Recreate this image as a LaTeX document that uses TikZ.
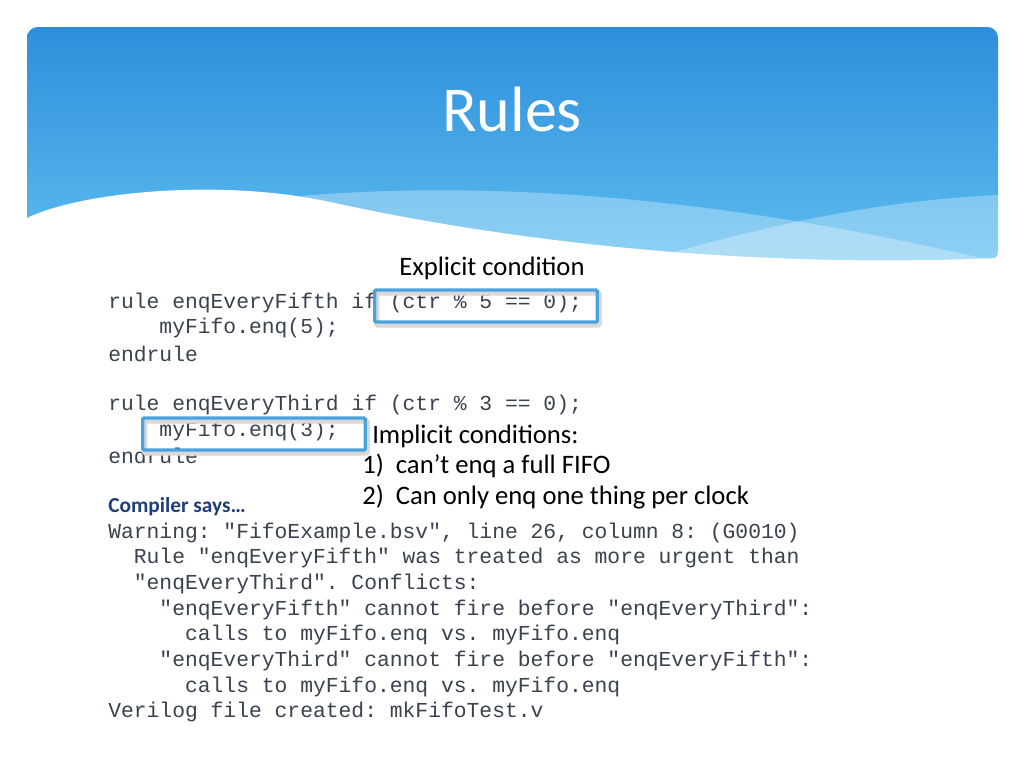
\documentclass[tikz,border=0pt]{standalone}
\usepackage{fontspec}
\setmainfont{Carlito}
\setmonofont{Liberation Mono}
\usepackage{xcolor}
\definecolor{bannertop}{HTML}{2E8EDB}
\definecolor{bannerbot}{HTML}{5CBDF0}
\definecolor{boxblue}{HTML}{4BA3DD}
\definecolor{saysblue}{HTML}{1F3F7A}
\definecolor{codegray}{HTML}{3A4250}
\usetikzlibrary{positioning}

\begin{document}
\begin{tikzpicture}[x=0.75pt,y=-0.75pt]
    % Define styles
    \tikzset{code/.style={anchor=west, inner sep=0pt, font=\fontsize{16}{18}\selectfont\ttfamily, text=codegray}}
    \tikzset{note/.style={anchor=west, inner sep=0pt, font=\fontsize{20}{24}\selectfont}}
    \tikzset{hilite/.style={draw=boxblue, line width=2.4pt, rounded corners=1pt,
        minimum width=167pt, minimum height=24pt}}

    \useasboundingbox[fill=white] (0,0) rectangle (1024,768);

    % Banner
    \shade[top color=bannertop, bottom color=bannerbot, rounded corners=8pt]
        (27,27) rectangle (998,262);
    \fill[white, opacity=0.3] (300,196) .. controls (550,175) and (800,215) .. (998,262)
        -- (998,270) -- (600,270) -- cycle;
    \fill[white, opacity=0.3] (640,262) .. controls (800,215) and (900,200) .. (998,195)
        -- (998,270) -- cycle;
    \fill[white] (27,218) .. controls (80,192) and (220,178) .. (330,202)
        .. controls (480,235) and (720,270) .. (998,258) -- (998,275) -- (27,275) -- cycle;
    \node[text=white, font=\fontsize{48}{52}\selectfont] (title) at (512,110) {Rules};

    % Code
    \node[code] (l1) at (108,303) {rule enqEveryFifth if (ctr \% 5 == 0);};
    \node[code] (l2) at (108,328) {\ \ \ \ myFifo.enq(5);};
    \node[code] (l3) at (108,354) {endrule};
    \node[code] (l4) at (108,405) {rule enqEveryThird if (ctr \% 3 == 0);};
    \node[code] (l5) at (108,431) {\ \ \ \ myFifo.enq(3);};
    \node[code] (l6) at (108,456) {endrule};

    % Highlight boxes
    \node[hilite, draw=black!15, line width=4pt] at (488,309) {};
    \node[hilite, draw=black!15, line width=4pt] at (256,437) {};
    \node[hilite] (box1) at (486,306) {};
    \node[hilite] (box2) at (254,434) {};

    % Notes
    \node[note] (explicit) at (399,268) {Explicit condition};
    \node[note] (implicit) at (372,436) {Implicit conditions:};
    \node[note] (imp1) at (362,466) {1)\ \ can’t enq a full FIFO};
    \node[note] (imp2) at (362,497) {2)\ \ Can only enq one thing per clock};
    \node[anchor=west, inner sep=0pt, font=\fontsize{16}{18}\selectfont\bfseries, text=saysblue]
        (says) at (108,507) {Compiler says…};

    % Compiler output
    \node[code] (w1) at (108,533) {Warning: "FifoExample.bsv", line 26, column 8: (G0010)};
    \node[code] (w2) at (108,558) {\ \ Rule "enqEveryFifth" was treated as more urgent than};
    \node[code] (w3) at (108,584) {\ \ "enqEveryThird". Conflicts:};
    \node[code] (w4) at (108,610) {\ \ \ \ "enqEveryFifth" cannot fire before "enqEveryThird":};
    \node[code] (w5) at (108,635) {\ \ \ \ \ \ calls to myFifo.enq vs. myFifo.enq};
    \node[code] (w6) at (108,661) {\ \ \ \ "enqEveryThird" cannot fire before "enqEveryFifth":};
    \node[code] (w7) at (108,687) {\ \ \ \ \ \ calls to myFifo.enq vs. myFifo.enq};
    \node[code] (w8) at (108,712) {Verilog file created: mkFifoTest.v};
\end{tikzpicture}
\end{document}
